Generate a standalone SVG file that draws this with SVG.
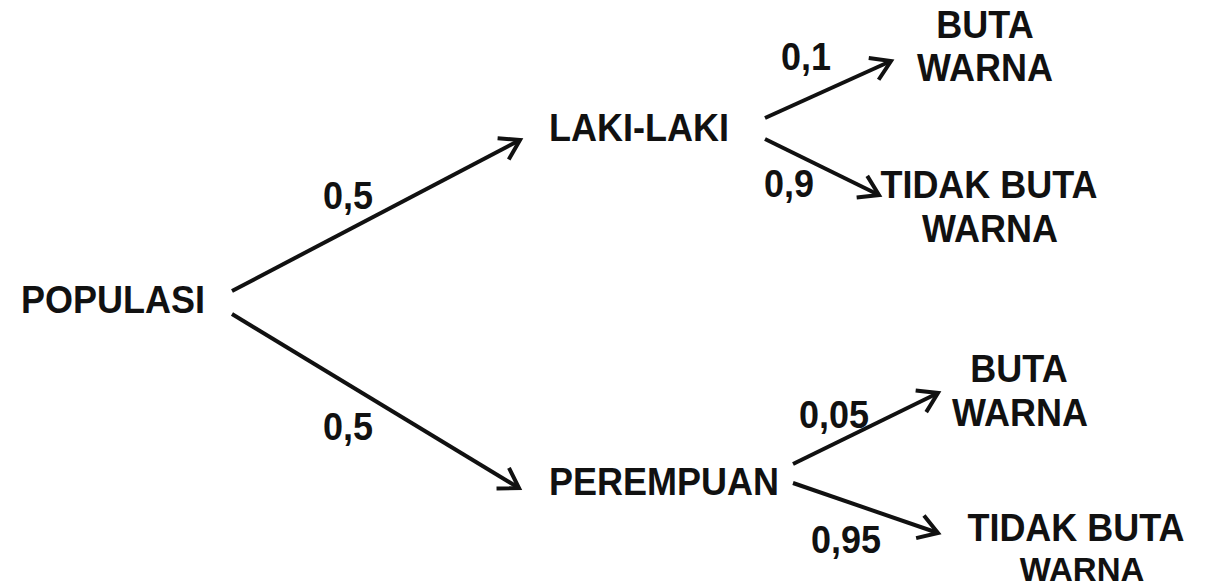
<svg xmlns="http://www.w3.org/2000/svg" width="1209" height="588" viewBox="0 0 1209 588">
<defs>
<style>
text{font-family:"Liberation Sans",Arial,sans-serif;font-weight:bold;font-size:36px;fill:#111}
.c{text-anchor:middle}
.e{stroke:#111;stroke-width:4;fill:none}
</style>
<marker id="ah" markerUnits="userSpaceOnUse" markerWidth="40" markerHeight="40" viewBox="-30 -20 40 40" refX="0" refY="0" orient="auto" overflow="visible">
<path d="M-19,-12 L0,0 L-19,12" fill="none" stroke="#111" stroke-width="4" stroke-linejoin="miter"/>
</marker>
</defs>
<rect width="1209" height="588" fill="#fff"/>
<g id="connectors">
<line class="e" x1="232" y1="291" x2="520" y2="140" marker-end="url(#ah)"/>
<line class="e" x1="232" y1="314" x2="519" y2="488" marker-end="url(#ah)"/>
<line class="e" x1="765" y1="118" x2="891" y2="61" marker-end="url(#ah)"/>
<line class="e" x1="765" y1="139" x2="879" y2="195" marker-end="url(#ah)"/>
<line class="e" x1="793" y1="464" x2="938" y2="393" marker-end="url(#ah)"/>
<line class="e" x1="793" y1="483" x2="938" y2="533" marker-end="url(#ah)"/>
</g>
<g id="labels">
<text transform="translate(323,209) scale(1,1.08)">0,5</text>
<text transform="translate(323,440) scale(1,1.08)">0,5</text>
<text transform="translate(781,70) scale(1,1.08)">0,1</text>
<text transform="translate(764,197) scale(1,1.08)">0,9</text>
<text transform="translate(799,428) scale(1,1.08)">0,05</text>
<text transform="translate(811,553) scale(1,1.08)">0,95</text>
</g>
<g id="populasi"><text transform="translate(21,313) scale(1,1.08)">POPULASI</text></g>
<g id="laki"><text transform="translate(549,141) scale(1,1.08)">LAKI-LAKI</text></g>
<g id="perempuan"><text transform="translate(549,495) scale(1,1.08)">PEREMPUAN</text></g>
<g id="laki-buta"><text class="c" transform="translate(985,38) scale(1,1.08)">BUTA</text><text class="c" transform="translate(985,81) scale(1,1.08)">WARNA</text></g>
<g id="laki-tidak"><text class="c" transform="translate(989,198) scale(1,1.08)">TIDAK BUTA</text><text class="c" transform="translate(990,242) scale(1,1.08)">WARNA</text></g>
<g id="perempuan-buta"><text class="c" transform="translate(1019,382) scale(1,1.08)">BUTA</text><text class="c" transform="translate(1020,426) scale(1,1.08)">WARNA</text></g>
<g id="perempuan-tidak"><text class="c" transform="translate(1076,541) scale(1,1.08)">TIDAK BUTA</text><text class="c" style="font-size:33px" x="1082" y="581">WARNA</text></g>
</svg>
